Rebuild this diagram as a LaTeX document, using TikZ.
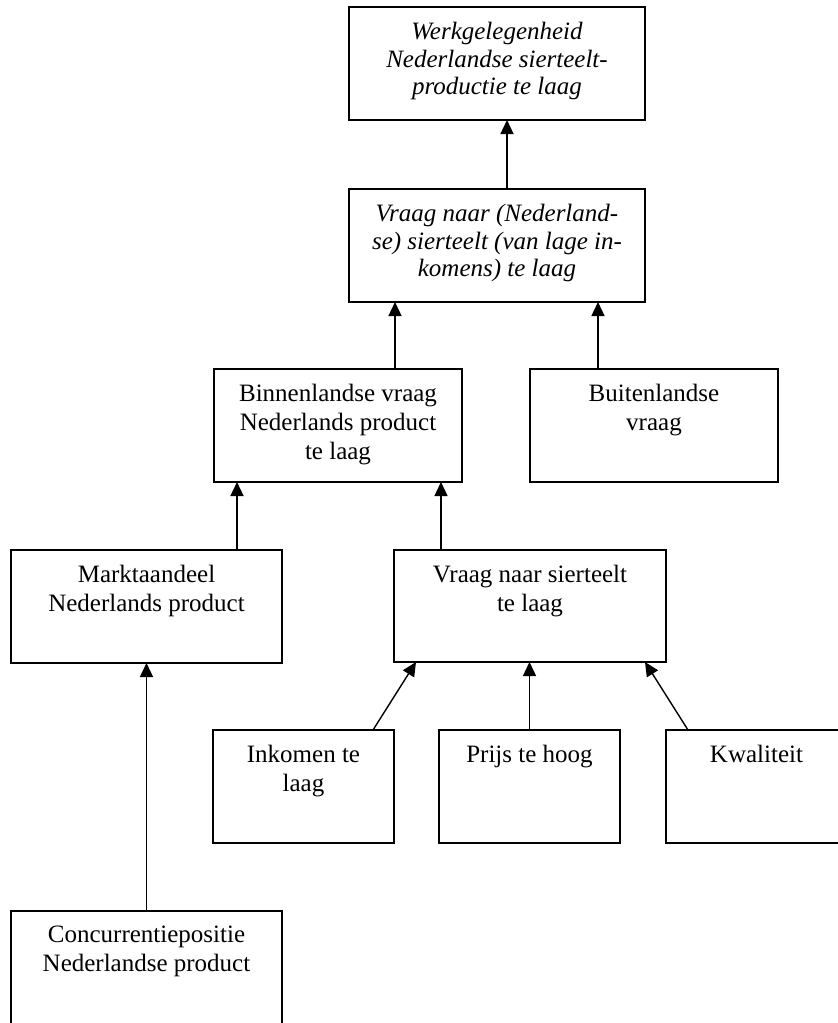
\documentclass[tikz,border=0pt]{standalone}
\usepackage{fontspec}
\setmainfont{Liberation Serif}
\usetikzlibrary{arrows.meta}
\tikzset{
  box/.style={draw, line width=1.4pt, inner sep=0pt, outer sep=0pt, anchor=north west},
  txt/.style={inner sep=0pt, align=center, anchor=north, font=\fontsize{25}{28.8}\selectfont},
  itxt/.style={txt, font=\fontsize{25}{27.6}\selectfont\itshape},
  arr/.style={line width=1.4pt, -{Triangle[length=14pt,width=13pt]}}
}
\begin{document}
\begin{tikzpicture}[x=1pt,y=-1pt]
\useasboundingbox[fill=white] (0,0) rectangle (838,1023);
% boxes
\node[box, minimum width=296pt, minimum height=113pt] (top) at (349,7) {};
\node[box, minimum width=296pt, minimum height=113pt] (vnl) at (349,189) {};
\node[box, minimum width=248pt, minimum height=113pt] (binnen) at (214,369) {};
\node[box, minimum width=248pt, minimum height=113pt] (buiten) at (530,369) {};
\node[box, minimum width=271pt, minimum height=113pt] (markt) at (11,550) {};
\node[box, minimum width=272pt, minimum height=112pt] (vraag) at (394,550) {};
\node[box, minimum width=181pt, minimum height=113pt] (inkomen) at (213,730) {};
\node[box, minimum width=181pt, minimum height=113pt] (prijs) at (439,730) {};
\node[box, minimum width=181pt, minimum height=113pt] (kwal) at (666,730) {};
\node[box, minimum width=271pt, minimum height=120pt] (conc) at (11,911) {};
% texts
\node[itxt] (topT) at ([yshift=-15pt]top.north) {Werkgelegenheid\\Nederlandse sierteelt-\\productie te laag};
\node[itxt] (vnlT) at ([yshift=-15pt]vnl.north) {Vraag naar (Nederland-\\se) sierteelt (van lage in-\\komens) te laag};
\node[txt] (binnenT) at ([yshift=-15pt]binnen.north) {Binnenlandse vraag\\Nederlands product\\te laag};
\node[txt] (buitenT) at ([yshift=-15pt]buiten.north) {Buitenlandse\\vraag};
\node[txt] (marktT) at ([yshift=-15pt]markt.north) {Marktaandeel\\Nederlands product};
\node[txt] (vraagT) at ([yshift=-15pt]vraag.north) {Vraag naar sierteelt\\te laag};
\node[txt] (inkomenT) at ([yshift=-15pt]inkomen.north) {Inkomen te\\laag};
\node[txt] (prijsT) at ([yshift=-15pt]prijs.north) {Prijs te hoog};
\node[txt] (kwalT) at ([yshift=-15pt]kwal.north) {Kwaliteit};
\node[txt] (concT) at ([yshift=-15pt]conc.north) {Concurrentiepositie\\Nederlandse product};
% connectors
\draw[arr] ([xshift=10pt]vnl.north) -- ([xshift=10pt]top.south);
\draw[arr] ([xshift=57pt]binnen.north) -- ([xshift=57pt]binnen.north |- vnl.south);
\draw[arr] ([xshift=-56pt]buiten.north) -- ([xshift=-56pt]buiten.north |- vnl.south);
\draw[arr] ([xshift=23pt]binnen.south west |- markt.north) -- ([xshift=23pt]binnen.south west);
\draw[arr] ([xshift=-21pt]binnen.south east |- vraag.north) -- ([xshift=-21pt]binnen.south east);
\draw[arr] (conc.north) -- (markt.south);
\draw[arr] ([xshift=-21pt]inkomen.north east) -- ([xshift=22pt]vraag.south west);
\draw[arr] (prijs.north) -- (prijs.north |- vraag.south);
\draw[arr] ([xshift=22pt]kwal.north west) -- ([xshift=-21pt]vraag.south east);
\end{tikzpicture}
\end{document}
